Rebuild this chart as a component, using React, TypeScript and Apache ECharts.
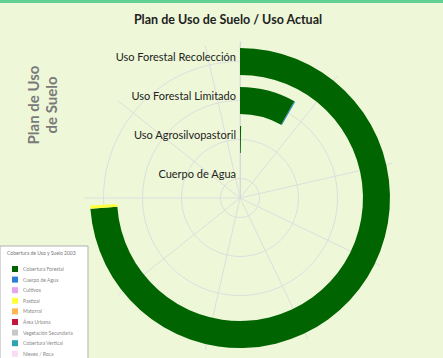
import React, { useEffect, useRef } from "react";
import * as echarts from "echarts";

const categories = ["Cuerpo de Agua", "Uso Agrosilvopastoril", "Uso Forestal Limitado", "Uso Forestal Recolección"];
const seriesNames = [
  "Cobertura Forestal",
  "Cuerpo de Agua",
  "Cultivos",
  "Pastizal",
  "Matorral",
  "Área Urbana",
  "Vegetación Secundaria",
  "Cobertura Vertical",
  "Nieves / Roca",
];
const seriesColors = ["#006400", "#2a7fd4", "#e4a6ee", "#ffff3c", "#ffb453", "#c4163c", "#c8c8c8", "#2ea3b5", "#fadcf2"];
const seriesValues: number[][] = [
  [0, 7, 228, 2068],
  [0, 0, 4, 0],
  [0, 0, 0, 0],
  [0, 0, 0, 10],
  [0, 0, 0, 0],
  [0, 0, 0, 0],
  [0, 0, 0, 0],
  [0, 0, 0, 0],
  [0, 0, 0, 0],
];
const angleMax = 2800;
const angleInterval = 300;

export default function App() {
  const ref = useRef<HTMLDivElement>(null);
  useEffect(() => {
    if (!ref.current) return;
    const chart = echarts.init(ref.current, undefined, { renderer: "svg" });
    chart.setOption({
      animation: false,
      backgroundColor: "#eef8d8",
      title: {
        text: "Plan de Uso de Suelo / Uso Actual",
        left: 223,
        textAlign: "center",
        top: 8,
        textStyle: { fontFamily: "Lato", fontSize: 12.5, fontWeight: "bold", color: "#222" },
      },
      polar: { center: [240, 198], radius: [0, 156] },
      angleAxis: {
        type: "value",
        min: 0,
        max: angleMax,
        interval: angleInterval,
        startAngle: 90,
        clockwise: true,
        axisLine: { show: false },
        axisTick: { show: false },
        axisLabel: { show: false },
        splitLine: { show: true, lineStyle: { color: "#dedede", width: 1 } },
      },
      radiusAxis: {
        type: "category",
        data: categories,
        axisLine: { show: true, lineStyle: { color: "#d8d8d8" } },
        axisTick: { show: false, alignWithLabel: true, interval: 0 },
        axisLabel: {
          fontFamily: "Lato",
          fontSize: 11,
          color: "#222",
          margin: 4,
          interval: 0,
          verticalAlign: "bottom",
          lineHeight: 11,
        },
        splitLine: { show: true, interval: 0, lineStyle: { color: "#dedede", width: 1 } },
      },
      legend: {
        orient: "vertical",
        left: 7,
        top: 261,
        height: 140,
        itemWidth: 6,
        itemHeight: 6,
        itemGap: 4.6,
        icon: "rect",
        textStyle: { fontSize: 5, color: "#888", lineHeight: 6, fontFamily: "Lato" },
        data: seriesNames,
      },
      graphic: [
        { type: "rect", shape: { x: 0, y: 0, width: 443, height: 3 }, style: { fill: "#62cf93" } },
        {
          type: "text",
          x: 42,
          y: 105,
          rotation: Math.PI / 2,
          style: {
            text: "Plan de Uso\nde Suelo",
            fontFamily: "Lato",
            fontSize: 15,
            fontWeight: "bold",
            fill: "#7a7a7a",
            align: "center",
            verticalAlign: "middle",
            lineHeight: 18,
          },
        },
        {
          type: "rect",
          z: -1,
          shape: { x: 0, y: 246, width: 88, height: 115 },
          style: { fill: "#ffffff", stroke: "#b0b0b0", lineWidth: 1 },
        },
        {
          type: "text",
          x: 7,
          y: 253,
          style: { text: "Cobertura de Uso y Suelo 2003", fontFamily: "Lato", fontSize: 5, fill: "#777", verticalAlign: "middle" },
        },
      ],
      series: seriesNames.map((name, i) => ({
        type: "bar",
        name,
        coordinateSystem: "polar",
        stack: "total",
        barWidth: 27,
        itemStyle: { color: seriesColors[i] },
        data: seriesValues[i],
      })),
    });
    return () => chart.dispose();
  }, []);
  return <div ref={ref} style={{ position: "fixed", left: 0, top: 0, width: 443, height: 358 }} />;
}
